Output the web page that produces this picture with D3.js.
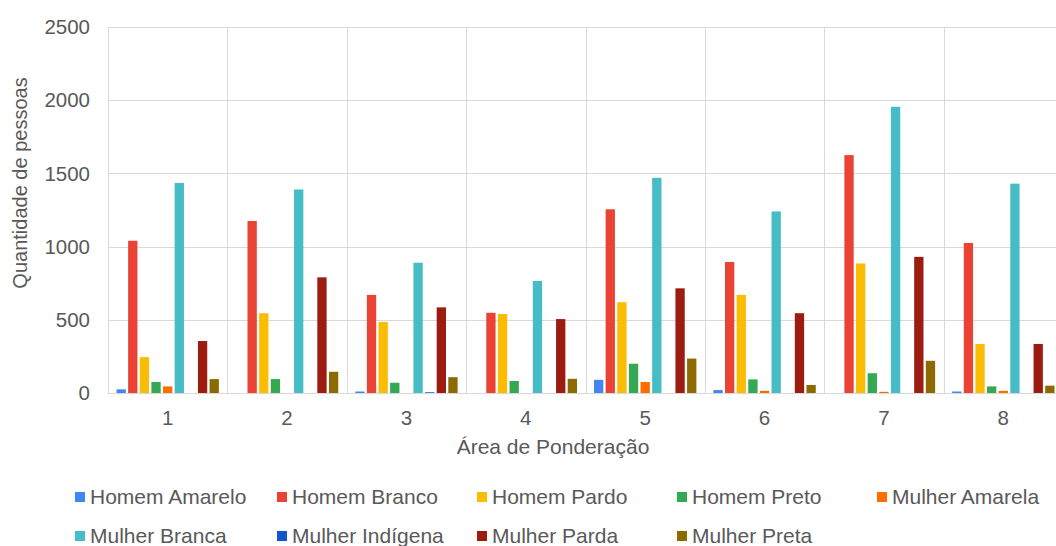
<!DOCTYPE html>
<html lang="pt">
<head>
<meta charset="UTF-8">
<title>Quantidade de pessoas por Área de Ponderação</title>
<style>
    body { margin: 0; background: #fff; }
    svg { display: block; font-family: "Liberation Sans", Arial, sans-serif; }
</style>
</head>
<body>
<script src="https://cdnjs.cloudflare.com/ajax/libs/d3/7.8.5/d3.min.js"></script>
<script>
    const width = 1056;
    const height = 546;

    // categorias (Área de Ponderação)
    const areas = ['1', '2', '3', '4', '5', '6', '7', '8'];
    const series = ['Homem Amarelo', 'Homem Branco', 'Homem Pardo', 'Homem Preto', 'Mulher Amarela',
        'Mulher Branca', 'Mulher Indígena', 'Mulher Parda', 'Mulher Preta'];
    const colors = ['#4285f4', '#ea4335', '#fbbc04', '#34a853', '#ff6d01',
        '#46bdc6', '#1155cc', '#9c1c12', '#8d6a00'];

    // valores por série, uma entrada por área
    const homemAmarelo = [25, 0, 10, 0, 90, 20, 0, 10];
    const homemBranco = [1040, 1175, 670, 548, 1255, 895, 1625, 1025];
    const homemPardo = [245, 545, 485, 540, 620, 670, 885, 335];
    const homemPreto = [75, 95, 70, 82, 200, 93, 135, 45];
    const mulherAmarela = [45, 0, 0, 0, 75, 15, 8, 15];
    const mulherBranca = [1435, 1390, 890, 765, 1470, 1240, 1955, 1430];
    const mulherIndigena = [0, 0, 5, 0, 0, 0, 0, 0];
    const mulherParda = [355, 790, 585, 505, 715, 545, 930, 335];
    const mulherPreta = [95, 145, 108, 97, 235, 55, 220, 50];

    const yTicks = [0, 500, 1000, 1500, 2000, 2500];

    const values = [homemAmarelo, homemBranco, homemPardo, homemPreto, mulherAmarela,
        mulherBranca, mulherIndigena, mulherParda, mulherPreta];

    const margin = { top: 27, left: 108, bottom: 153 };
    const plotRight = 1063;
    const textColor = '#595959';

    const svg = d3.select('body').append('svg')
        .attr('width', width)
        .attr('height', height);

    const x0 = d3.scaleBand().domain(areas).range([margin.left, plotRight]).padding(0);
    const bw = x0.bandwidth();
    const x1 = d3.scaleBand().domain(series).range([8.5, bw - 8.5]).paddingInner(0.2).paddingOuter(0);
    const y = d3.scaleLinear().domain([0, 2500]).range([height - margin.bottom, margin.top]);

    // grade horizontal
    svg.append('g').selectAll('line').data(yTicks).enter().append('line')
        .attr('x1', margin.left).attr('x2', plotRight)
        .attr('y1', d => Math.round(y(d)) + 0.5).attr('y2', d => Math.round(y(d)) + 0.5)
        .attr('stroke', '#d9d9d9').attr('stroke-width', 1);

    // grade vertical (limites das categorias)
    const bounds = areas.map(a => x0(a)).concat([plotRight]);
    svg.append('g').selectAll('line').data(bounds).enter().append('line')
        .attr('x1', d => Math.round(d) + 0.5).attr('x2', d => Math.round(d) + 0.5)
        .attr('y1', y(2500)).attr('y2', y(0))
        .attr('stroke', '#d9d9d9').attr('stroke-width', 1);

    // barras
    const groups = svg.append('g').selectAll('g').data(areas).enter().append('g')
        .attr('transform', a => `translate(${x0(a)},0)`);
    groups.selectAll('rect')
        .data((a, i) => series.map((s, k) => ({ s, k, v: values[k][i] })))
        .enter().append('rect')
        .attr('x', d => x1(d.s))
        .attr('width', x1.bandwidth())
        .attr('y', d => y(d.v))
        .attr('height', d => y(0) - y(d.v))
        .attr('fill', d => colors[d.k]);

    // rótulos eixo y
    svg.append('g').selectAll('text').data(yTicks).enter().append('text')
        .attr('x', 90).attr('y', d => y(d)).attr('dy', '0.35em')
        .attr('text-anchor', 'end').attr('font-size', 20.5).attr('fill', textColor)
        .text(d => d);

    // rótulos eixo x
    svg.append('g').selectAll('text').data(areas).enter().append('text')
        .attr('x', a => x0(a) + bw / 2).attr('y', 418).attr('dy', '0.35em')
        .attr('text-anchor', 'middle').attr('font-size', 20.5).attr('fill', textColor)
        .text(a => a);

    svg.append('text')
        .attr('x', 553).attr('y', 447).attr('dy', '0.35em')
        .attr('text-anchor', 'middle').attr('font-size', 21).attr('fill', textColor)
        .text('Área de Ponderação');

    svg.append('text')
        .attr('transform', 'translate(20,183) rotate(-90)')
        .attr('dy', '0.35em')
        .attr('text-anchor', 'middle').attr('font-size', 20).attr('fill', textColor)
        .text('Quantidade de pessoas');

    // legenda
    const legendCols = [75, 277, 477, 677, 877];
    const legendRows = [497, 536];
    const legend = svg.append('g').selectAll('g').data(series).enter().append('g')
        .attr('transform', (s, i) => `translate(${legendCols[i % 5]},${legendRows[Math.floor(i / 5)]})`);
    legend.append('rect')
        .attr('x', 0).attr('y', -5).attr('width', 10).attr('height', 10)
        .attr('fill', (s, i) => colors[i]);
    legend.append('text')
        .attr('x', 15).attr('y', 0).attr('dy', '0.35em')
        .attr('font-size', 21).attr('fill', textColor)
        .text(s => s);
</script>
</body>
</html>
